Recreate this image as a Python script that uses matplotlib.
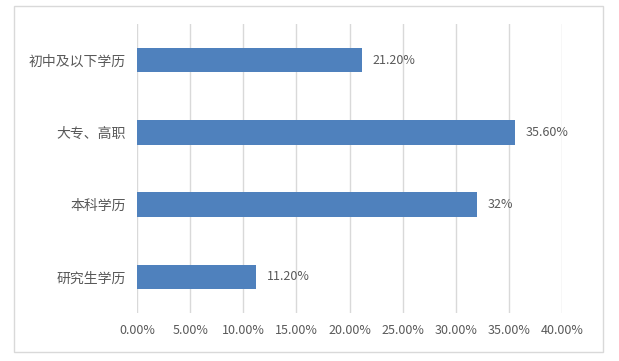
import matplotlib.pyplot as plt
from matplotlib.patches import Rectangle

plt.rcParams['font.family'] = ['Noto Sans CJK SC', 'DejaVu Sans']

categories = ['初中及以下学历', '大专、高职', '本科学历', '研究生学历']
values = [21.2, 35.6, 32.0, 11.2]
value_labels = ['21.20%', '35.60%', '32%', '11.20%']
x_ticks = [0, 5, 10, 15, 20, 25, 30, 35, 40]
x_tick_labels = ['%.2f%%' % t for t in x_ticks]

text_color = '#595959'
grid_color = '#D9D9D9'

fig = plt.figure(figsize=(6.19, 3.61), dpi=100)
# 图表外框
fig.patches.append(Rectangle((14 / 619, 1 - 352 / 361), (603 - 14) / 619, (352 - 6) / 361,
                             transform=fig.transFigure, fill=False,
                             edgecolor=grid_color, linewidth=1))

ax = fig.add_axes([137 / 619, 1 - 313 / 361, (562 - 137) / 619, (313 - 24) / 361])

y = list(range(len(categories)))
ax.barh(y, values, height=0.34, color='#4F81BD', zorder=3)
for yi, v, lab in zip(y, values, value_labels):
    ax.text(v + 1.0, yi, lab, va='center', ha='left', fontsize=9, color=text_color)

ax.set_xlim(0, 40)
ax.set_ylim(len(categories) - 0.5, -0.5)
ax.set_xticks(x_ticks)
ax.set_xticklabels(x_tick_labels, fontsize=9, color=text_color)
ax.set_yticks(y)
ax.set_yticklabels(categories, fontsize=10, color=text_color)
ax.tick_params(axis='both', length=0)
ax.tick_params(axis='x', pad=8)
ax.tick_params(axis='y', pad=8)
ax.grid(axis='x', color=grid_color, linewidth=1, zorder=0)
for s in ax.spines.values():
    s.set_visible(False)

plt.savefig('out.png', dpi=100)
